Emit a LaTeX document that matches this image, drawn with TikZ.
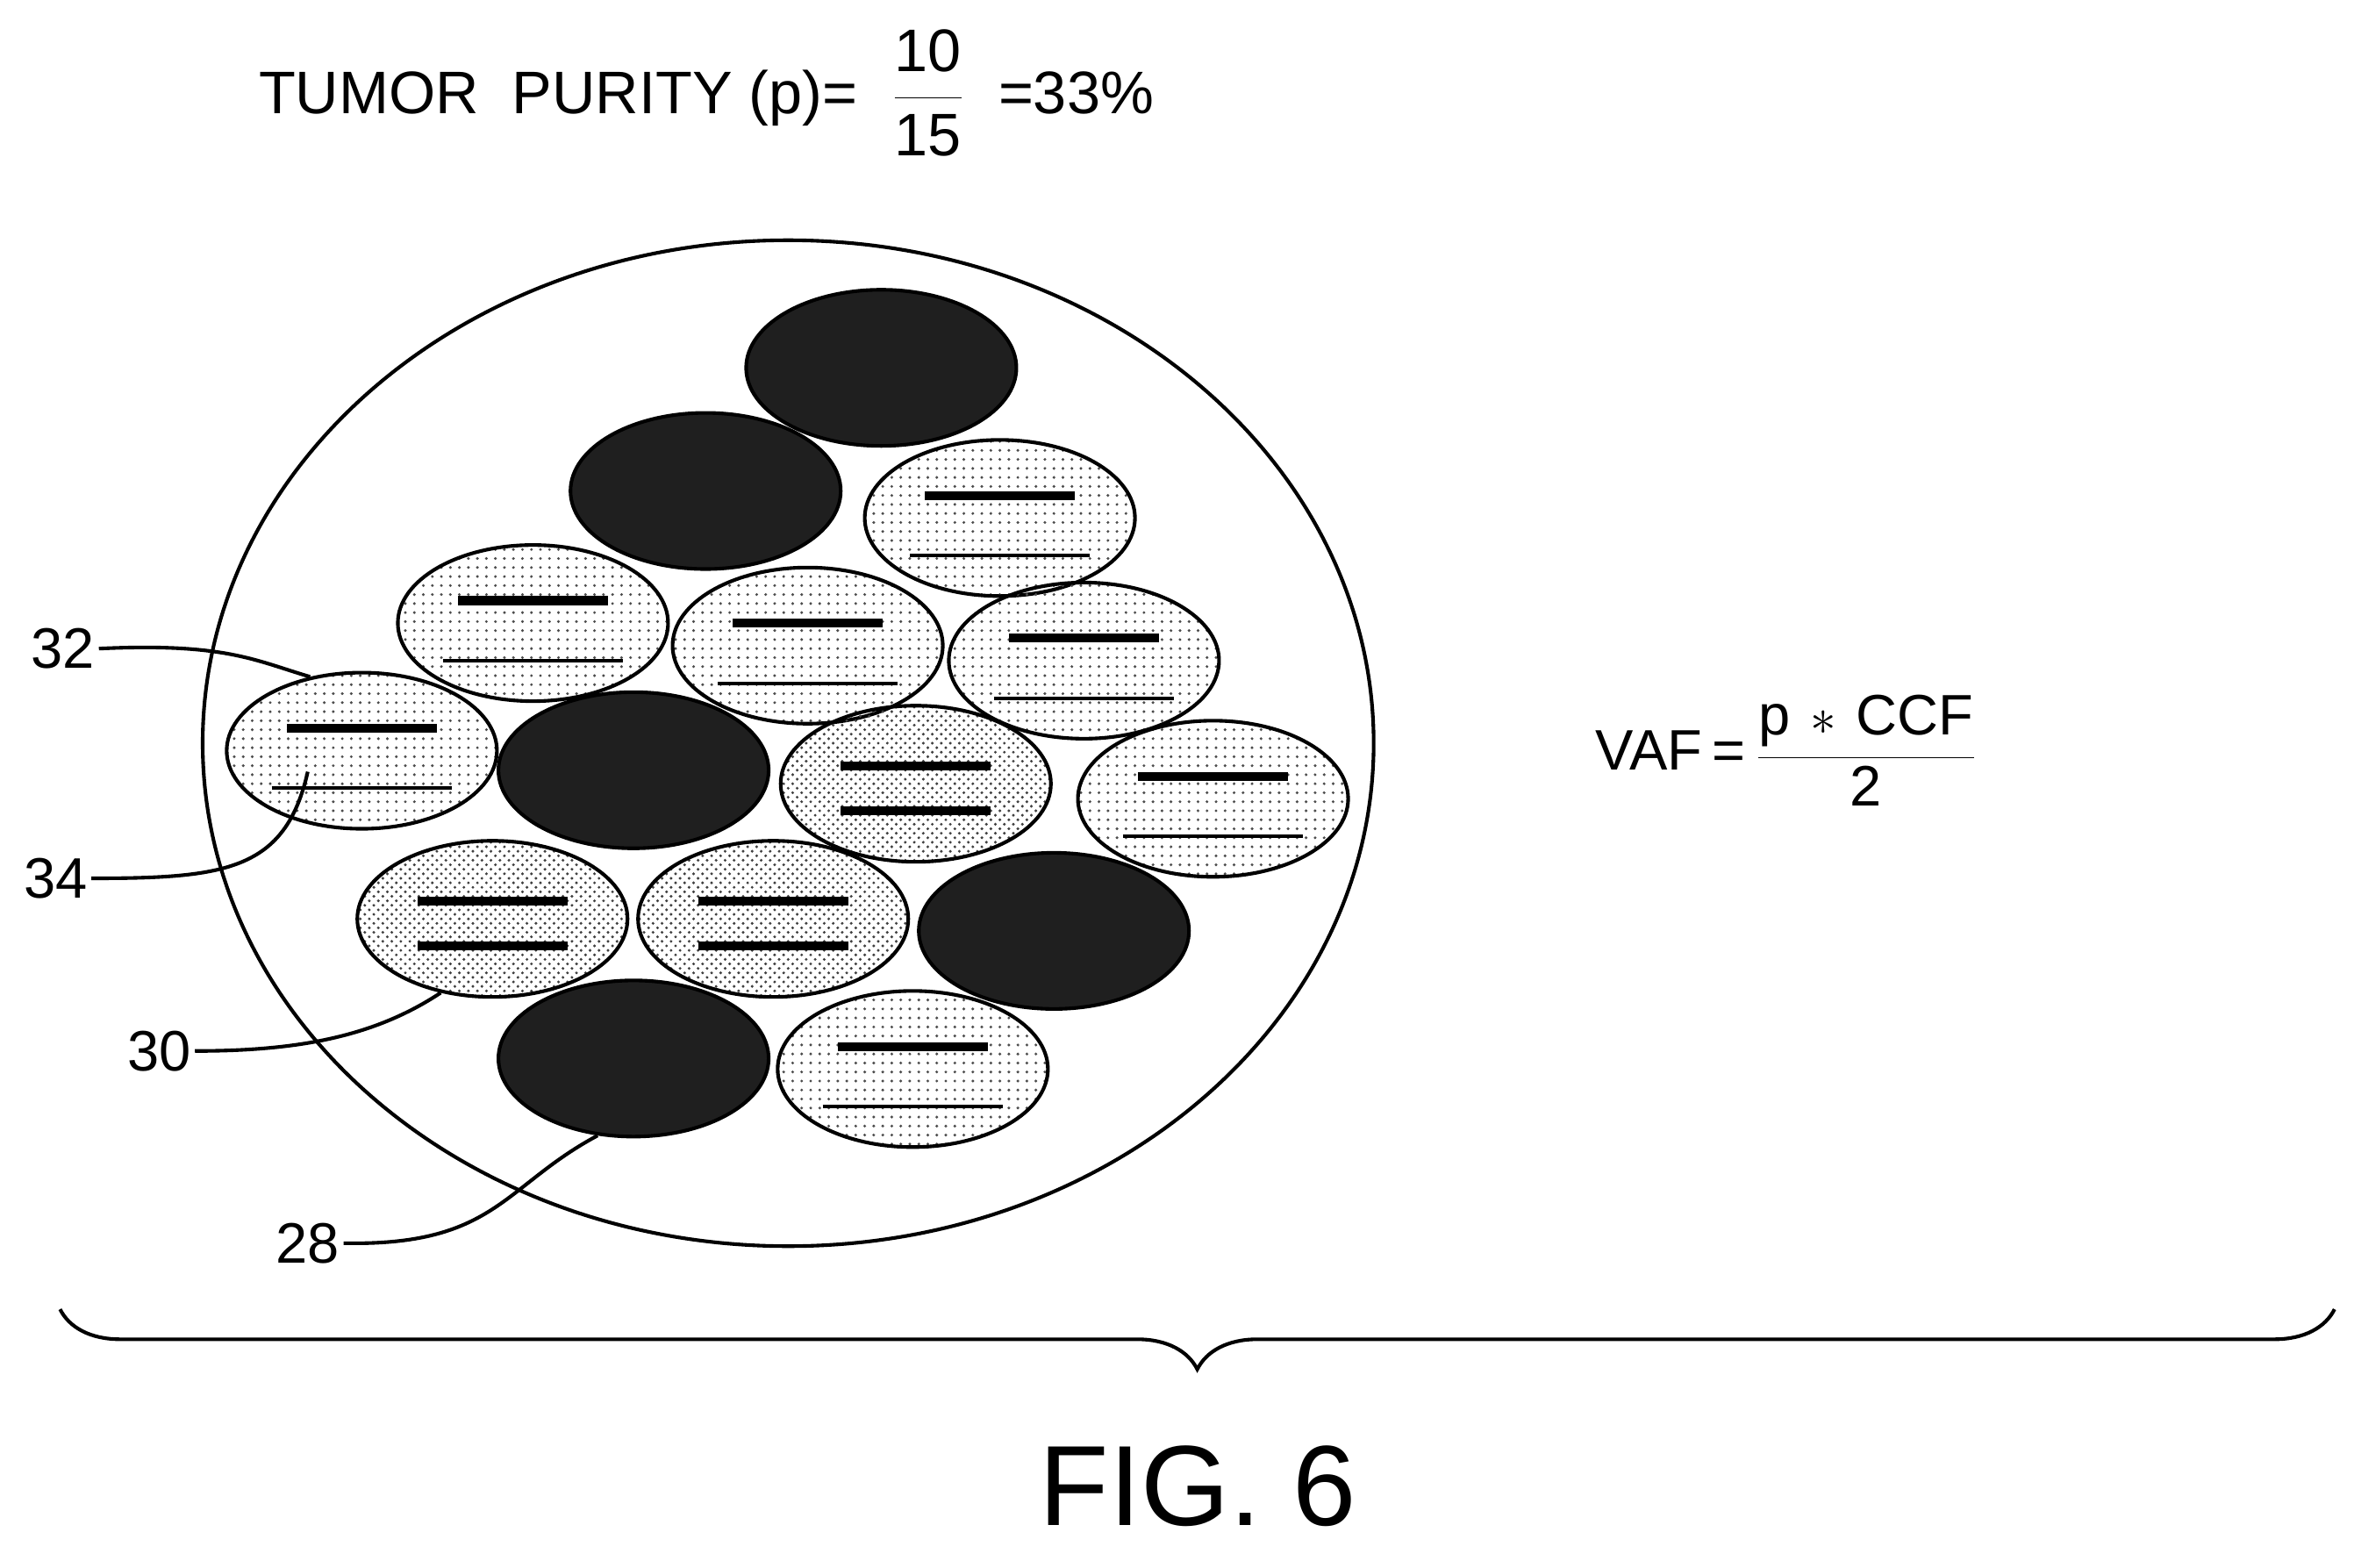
\documentclass[tikz,border=0pt]{standalone}
\usepackage{fontspec}
\setmainfont{Liberation Sans}
\usetikzlibrary{shapes.geometric,patterns,decorations.pathreplacing}

\tikzset{every picture/.style={line width=0.75pt}}
\tikzset{
  cell/.style={ellipse,draw,line width=1.2pt,minimum width=90pt,minimum height=52pt,inner sep=0pt},
  darkcell/.style={cell,fill=black!88},
  lightcell/.style={cell,pattern=dots,pattern color=black!70},
  midcell/.style={cell,pattern=crosshatch dots,pattern color=black!75},
  thickbar/.style={line width=3pt},
  thinbar/.style={line width=1.2pt},
  numlabel/.style={font=\fontsize{19pt}{19pt}\selectfont,inner sep=1pt},
  leader/.style={line width=1.2pt}
}

\begin{document}
\begin{tikzpicture}[x=0.5pt,y=0.5pt,yscale=-1,xscale=1]
\useasboundingbox (0,0) rectangle (1568,1044);

% title
\node[anchor=west,font=\fontsize{20pt}{20pt}\selectfont] (title) at (165,62) {TUMOR\ \ PURITY (p)=\ \ $\displaystyle\frac{\mbox{10}}{\mbox{15}}$\ \ =33\%};

% outer tumour sample
\draw[line width=1.2pt] (525,495) ellipse (390 and 335);

% cells
\node[darkcell]  (c1)  at (587,245) {};
\node[darkcell]  (c2)  at (470,327) {};
\node[lightcell] (c3)  at (666,345) {};
\node[lightcell] (c4)  at (355,415) {};
\node[lightcell] (c5)  at (538,430) {};
\node[lightcell] (c6)  at (722,440) {};
\node[lightcell] (c7)  at (241,500) {};
\node[darkcell]  (c8)  at (422,513) {};
\node[midcell]   (c9)  at (610,522) {};
\node[lightcell] (c10) at (808,532) {};
\node[midcell]   (c11) at (328,612) {};
\node[midcell]   (c12) at (515,612) {};
\node[darkcell]  (c13) at (702,620) {};
\node[darkcell]  (c14) at (422,705) {};
\node[lightcell] (c15) at (608,712) {};

% chromosome bars
\foreach \c in {c3,c4,c5,c6,c7,c10,c15}{
  \draw[thickbar] ([shift={(-50,-15)}]\c.center) -- ++(100,0);
  \draw[thinbar]  ([shift={(-60,25)}]\c.center) -- ++(120,0);
}
\foreach \c in {c9,c11,c12}{
  \draw[thickbar] ([shift={(-50,-12)}]\c.center) -- ++(100,0);
  \draw[thickbar] ([shift={(-50,18)}]\c.center) -- ++(100,0);
}

% reference numerals
\node[numlabel] (l32) at (42,432) {32};
\node[numlabel] (l34) at (37,585) {34};
\node[numlabel] (l30) at (106,700) {30};
\node[numlabel] (l28) at (205,828) {28};
\coordinate (p34) at (205,514);
\draw[leader] (l32.east) .. controls (150,428) and (170,440) .. (c7.125);
\draw[leader] (l34.east) .. controls (150,585) and (190,580) .. (p34);
\draw[leader] (l30.east) .. controls (200,700) and (250,690) .. (c11.235);
\draw[leader] (l28.east) .. controls (330,830) and (335,790) .. (c14.245);

% formula
\node[font=\fontsize{19pt}{19pt}\selectfont] (vaf) at (1190,500) {VAF\,=\,$\displaystyle\frac{\mbox{p}\,\ast\,\mbox{CCF}}{\mbox{2}}$};

% brace
\draw[line width=1.2pt,decorate,decoration={brace,amplitude=20pt}] (1555,872) -- (40,872);

\node[font=\fontsize{38pt}{38pt}\selectfont] (fig) at (798,990) {FIG. 6};
\end{tikzpicture}
\end{document}
